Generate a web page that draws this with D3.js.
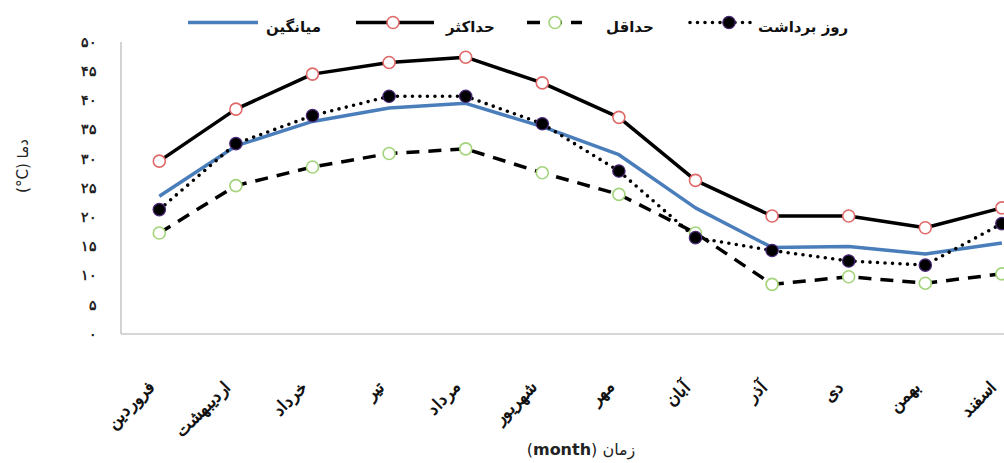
<!DOCTYPE html>
<html>
<head>
<meta charset="utf-8">
<script src="https://cdn.jsdelivr.net/npm/d3@7"></script>
<style>
  html, body { margin: 0; padding: 0; background: #fff; }
  svg { display: block; font-family: "DejaVu Sans", sans-serif; }
</style>
</head>
<body>
<svg id="chart" width="1004" height="463"></svg>
<script>
const months = ["فروردین","اردیبهشت","خرداد","تیر","مرداد","شهریور","مهر","آبان","آذر","دی","بهمن","اسفند"];
const maxVals     = [29.6, 38.5, 44.5, 46.5, 47.4, 43.0, 37.1, 26.3, 20.2, 20.2, 18.2, 21.6];
const avgVals     = [23.6, 32.2, 36.4, 38.7, 39.5, 35.5, 30.7, 21.6, 14.8, 15.0, 13.7, 15.6];
const minVals     = [17.3, 25.4, 28.6, 30.9, 31.7, 27.6, 23.9, 17.3,  8.5,  9.8,  8.7, 10.3];
const harvestVals = [21.3, 32.6, 37.4, 40.7, 40.7, 36.0, 27.9, 16.5, 14.3, 12.5, 11.8, 18.9];
const yTicks      = [0, 5, 10, 15, 20, 25, 30, 35, 40, 45, 50];
const legendNames = ["میانگین", "حداکثر", "حداقل", "روز برداشت"];

const toFa = n => String(n).replace(/\d/g, d => "۰۱۲۳۴۵۶۷۸۹"[d]);

const svg = d3.select("#chart");
const x = d3.scaleBand().domain(months).range([121, 121 + 12 * 76.6]);
const y = d3.scaleLinear().domain([0, 50]).range([334, 42]);
const cx = m => x(m) + x.bandwidth() / 2;

// axes
svg.append("line").attr("x1", 121).attr("x2", 1004).attr("y1", y(0)).attr("y2", y(0))
  .attr("stroke", "#c8c8c8").attr("stroke-width", 1.6);
svg.append("line").attr("x1", 121).attr("x2", 121).attr("y1", y(50)).attr("y2", y(0))
  .attr("stroke", "#c8c8c8").attr("stroke-width", 1.6);

const yAxis = d3.axisLeft(y).tickValues(yTicks).tickSize(0).tickPadding(24).tickFormat(toFa);
const gy = svg.append("g").attr("transform", "translate(121,0)").call(yAxis);
gy.select(".domain").remove();
gy.selectAll("text").attr("font-size", 13.5).attr("fill", "#222").attr("font-weight", "bold");

// x labels
const xAxis = d3.axisBottom(x).tickSize(0).tickPadding(0);
const gx = svg.append("g").call(xAxis);
gx.select(".domain").remove();
gx.selectAll(".tick").attr("transform", d => `translate(${cx(d) - 4},388)`);
gx.selectAll("text").attr("transform", "rotate(-45)").attr("text-anchor", "end")
  .attr("dy", 0).attr("y", 0).attr("x", 0)
  .attr("font-size", 17).attr("font-weight", "bold").attr("fill", "#111");

const line = d3.line().x((d, i) => cx(months[i])).y(d => y(d));

const series = [
  {vals: maxVals, stroke: "#000", w: 3.5, dash: null, cap: "butt", mark: "open", mstroke: "#e06a6a"},
  {vals: avgVals, stroke: "#4a7ebb", w: 3.5, dash: null, cap: "butt", mark: null},
  {vals: minVals, stroke: "#000", w: 3.5, dash: "13,9", cap: "butt", mark: "open", mstroke: "#a3d37a"},
  {vals: harvestVals, stroke: "#000", w: 3.6, dash: "0,7.5", cap: "round", mark: "fill", mstroke: "#4b2a7a"}
];

series.forEach(s => {
  svg.append("path").datum(s.vals).attr("d", line).attr("fill", "none")
    .attr("stroke", s.stroke).attr("stroke-width", s.w)
    .attr("stroke-dasharray", s.dash).attr("stroke-linecap", s.cap).attr("stroke-linejoin", "round");
});
series.forEach(s => {
  if (!s.mark) return;
  svg.append("g").selectAll("circle").data(s.vals).join("circle")
    .attr("cx", (d, i) => cx(months[i])).attr("cy", d => y(d))
    .attr("r", s.mark === "fill" ? 6.2 : 6)
    .attr("fill", s.mark === "fill" ? "#000" : "#fff")
    .attr("stroke", s.mstroke).attr("stroke-width", s.mark === "fill" ? 1.2 : 1.6);
});

// legend
const legend = [
  {x1: 188, x2: 258, cxm: null, text: legendNames[0], tx: 266, s: series[1]},
  {x1: 356, x2: 434, cxm: 393, text: legendNames[1], tx: 446, s: series[0]},
  {x1: 527, x2: 582, cxm: 555, text: legendNames[2], tx: 606, s: series[2]},
  {x1: 690, x2: 752, cxm: 729, text: legendNames[3], tx: 758, s: series[3]}
];
const ly = 22.5;
legend.forEach(l => {
  svg.append("line").attr("x1", l.x1).attr("x2", l.x2).attr("y1", ly).attr("y2", ly)
    .attr("stroke", l.s.stroke).attr("stroke-width", l.s.w)
    .attr("stroke-dasharray", l.s.dash).attr("stroke-linecap", l.s.cap);
  if (l.cxm !== null) {
    svg.append("circle").attr("cx", l.cxm).attr("cy", ly).attr("r", l.s.mark === "fill" ? 6.2 : 6)
      .attr("fill", l.s.mark === "fill" ? "#000" : "#fff")
      .attr("stroke", l.s.mstroke).attr("stroke-width", l.s.mark === "fill" ? 1.2 : 1.6);
  }
  svg.append("text").attr("x", l.tx).attr("y", ly + 9).attr("font-size", 15)
    .attr("font-weight", "bold").attr("fill", "#111").text(l.text);
});

// axis titles
svg.append("text").attr("transform", "translate(28,166) rotate(-90)")
  .attr("text-anchor", "middle").attr("font-size", 15).attr("fill", "#222")
  .text("(°C) دما");

const xt = svg.append("text").attr("x", 581).attr("y", 455).attr("text-anchor", "middle")
  .attr("font-size", 16).attr("fill", "#222");
xt.append("tspan").text("(");
xt.append("tspan").attr("font-weight", "bold").text("month");
xt.append("tspan").text(") ");
xt.append("tspan").text("زمان");
</script>
</body>
</html>
